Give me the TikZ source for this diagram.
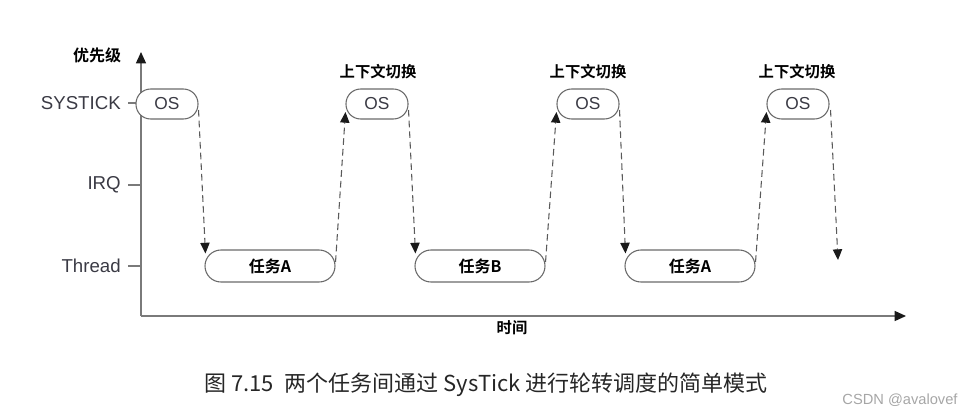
\documentclass[tikz,border=0pt]{standalone}
\usepackage{fontspec}
\setmainfont{Liberation Sans}
\newfontfamily\cjk{Noto Sans CJK SC}
\newfontfamily\cjkb{Noto Sans CJK SC Bold}
\usetikzlibrary{arrows.meta,calc}
\definecolor{axisgray}{HTML}{7A7A7A}
\definecolor{boxgray}{HTML}{6A6A6A}
\definecolor{dashgray}{HTML}{5A5A5A}
\definecolor{labelgray}{HTML}{3A3A44}
\definecolor{tipdark}{HTML}{1A1A1A}
\begin{document}
\begin{tikzpicture}[x=0.75pt,y=-0.75pt,
  axisline/.style={draw=axisgray,line width=1pt,-{Triangle[length=8.5pt,width=7.5pt,color=tipdark,fill=tipdark]}},
  tickline/.style={draw=axisgray,line width=0.8pt},
  levellabel/.style={text=labelgray,font=\fontsize{14}{16}\selectfont,anchor=east,inner sep=0pt},
  osbox/.style={draw=boxgray,line width=0.8pt,fill=white,rounded corners=11pt,minimum width=46.5pt,minimum height=22.5pt,inner sep=0pt,text=labelgray,font=\fontsize{13}{15}\selectfont},
  taskbox/.style={draw=boxgray,line width=0.8pt,fill=white,rounded corners=12pt,minimum width=97.5pt,minimum height=24pt,inner sep=0pt,font=\cjkb\fontsize{12}{14}\selectfont},
  switchlabel/.style={font=\cjkb\fontsize{11.5}{13}\selectfont,inner sep=0pt},
  dasharrow/.style={draw=dashgray,line width=0.8pt,dash pattern=on 5pt off 3pt,-{Triangle[length=8pt,width=7pt,color=tipdark,fill=tipdark]}},
]
\useasboundingbox (0,0) rectangle (977,418);
% axes
\coordinate (origin) at (141,316);
\coordinate (ytip) at (141,52);
\coordinate (xtip) at (906,316);
\draw[axisline] (origin) -- (ytip);
\draw[axisline] (origin) -- (xtip);
\node[font=\cjkb\fontsize{12}{14}\selectfont,inner sep=0pt] (prio) at (97,55) {优先级};
\node[font=\cjkb\fontsize{11.5}{13}\selectfont,inner sep=0pt] (time) at (512,328) {时间};
% levels
\coordinate (tk1) at (128,103); \coordinate (tk1e) at (141,103);
\coordinate (tk2) at (128,185); \coordinate (tk2e) at (141,185);
\coordinate (tk3) at (128,266); \coordinate (tk3e) at (141,266);
\draw[tickline] (tk1) -- (tk1e);
\draw[tickline] (tk2) -- (tk2e);
\draw[tickline] (tk3) -- (tk3e);
\node[levellabel] (lsys) at ($(tk1)+(-7,0)$) {SYSTICK};
\node[levellabel] (lirq) at ($(tk2)+(-7,0)$) {IRQ};
\node[levellabel] (lthr) at ($(tk3)+(-7,0)$) {Thread};
% OS boxes
\node[osbox] (os1) at (167,104) {OS};
\node[osbox] (os2) at (377,104) {OS};
\node[osbox] (os3) at (588,104) {OS};
\node[osbox] (os4) at (798,104) {OS};
\node[switchlabel] (sw2) at (378,72) {上下文切换};
\node[switchlabel] (sw3) at (588,72) {上下文切换};
\node[switchlabel] (sw4) at (797,72) {上下文切换};
% task boxes
\node[taskbox] (t1) at (270,266) {任务A};
\node[taskbox] (t2) at (480,266) {任务B};
\node[taskbox] (t3) at (690,266) {任务A};
\coordinate (end) at (838,260);
% connectors
\draw[dasharrow] ($(os1.east)+(0,6)$) -- ($(t1.north west)+(1,4)$);
\draw[dasharrow] ($(t1.east)+(0,-4)$) -- ($(os2.west)+(0,8)$);
\draw[dasharrow] ($(os2.east)+(0,6)$) -- ($(t2.north west)+(1,4)$);
\draw[dasharrow] ($(t2.east)+(0,-4)$) -- ($(os3.west)+(0,8)$);
\draw[dasharrow] ($(os3.east)+(0,6)$) -- ($(t3.north west)+(1,4)$);
\draw[dasharrow] ($(t3.east)+(0,-4)$) -- ($(os4.west)+(0,8)$);
\draw[dasharrow] ($(os4.east)+(1,6)$) -- (end);
% caption
\node[font=\cjk\fontsize{16.5}{19}\selectfont,text=black!85,inner sep=0pt,anchor=west] (cap) at (204,385) {图 7.15\enspace 两个任务间通过 SysTick 进行轮转调度的简单模式};
\node[font=\fontsize{11}{13}\selectfont,text=black!35,inner sep=0pt] (wm) at (900,400) {CSDN @avalovef};
\end{tikzpicture}
\end{document}
